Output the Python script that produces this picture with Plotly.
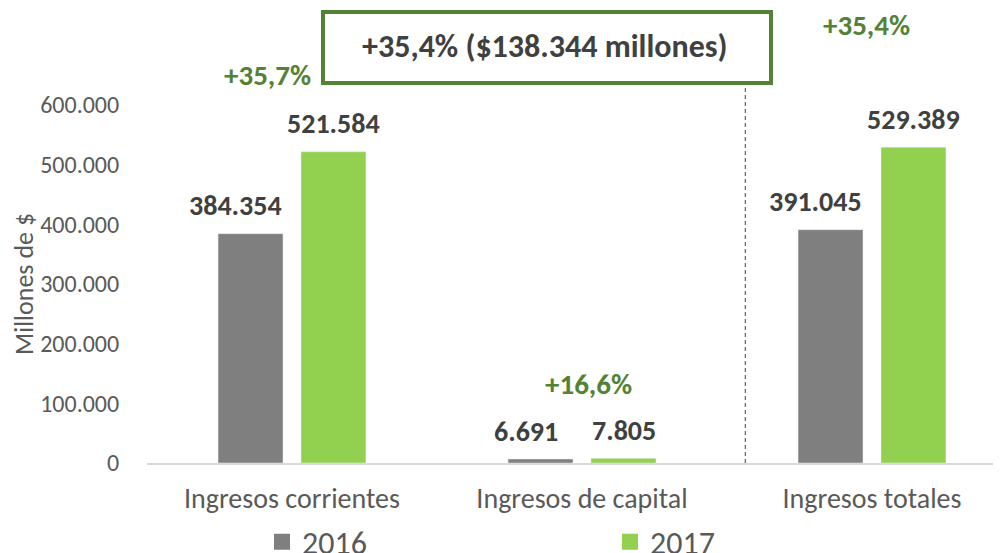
import plotly.graph_objects as go

categories = ["Ingresos corrientes", "Ingresos de capital", "Ingresos totales"]
years = ["2016", "2017"]
values_2016 = [384354, 6691, 391045]
values_2017 = [521584, 7805, 529389]
growth_labels = ["+35,7%", "+16,6%", "+35,4%"]
total_label = "+35,4% ($138.344 millones)"
y_ticks = [0, 100000, 200000, 300000, 400000, 500000, 600000]

GRAY = "#7F7F7F"
GREEN = "#92D050"
DKGREEN = "#548235"
TXT = "#404040"
AX = "#595959"
FONT = "Carlito, Calibri, Lato, sans-serif"

# The page body has an 8px margin, so the figure is drawn at (8, 8).
OFF = 8
W, H = 1001 - OFF, 553 - OFF
# plot area in page pixels
PL, PR, PT, PB = 147, 1000, 105, 463
L, T = PL - OFF, PT - OFF
R, B = W - (PR - OFF), H - (PB - OFF)
PW, PH = PR - PL, PB - PT
YMAX = 600000


def px_x(p):
    return (p - PL) / PW


def px_y(p):
    return (PB - p) / PH


fig = go.Figure()
fig.add_trace(go.Bar(name=years[0], x=categories, y=values_2016, marker_color=GRAY, showlegend=False))
fig.add_trace(go.Bar(name=years[1], x=categories, y=values_2017, marker_color=GREEN, showlegend=False))
# legend entries (square markers)
fig.add_trace(go.Scatter(name=years[0], x=[None], y=[None], mode="markers",
                         marker=dict(symbol="square", size=18, color=GRAY), legend="legend"))
fig.add_trace(go.Scatter(name=years[1], x=[None], y=[None], mode="markers",
                         marker=dict(symbol="square", size=18, color=GREEN), legend="legend2"))


def fmt(v):
    return f"{v:,}".replace(",", ".")


ann = []
for i, c in enumerate(categories):
    for v, dx in ((values_2016[i], -41.5 - 15), (values_2017[i], 41.5)):
        ann.append(dict(x=c, y=v, xref="x", yref="y", text=f"<b>{fmt(v)}</b>",
                        showarrow=False, xshift=dx, yshift=28, yanchor="middle",
                        font=dict(family=FONT, size=28, color=TXT)))

# growth labels (page-pixel positions of their centres)
g_pos = [(267, 75), (588, 384), (866, 25)]
for (gx, gy), lab in zip(g_pos, growth_labels):
    ann.append(dict(x=px_x(gx), y=px_y(gy), xref="paper", yref="paper", text=f"<b>{lab}</b>",
                    showarrow=False, xanchor="center", yanchor="middle",
                    font=dict(family=FONT, size=29, color=DKGREEN)))

# boxed total annotation
ann.append(dict(x=px_x(545), y=px_y(46), xref="paper", yref="paper", text=f"<b>{total_label}</b>",
                showarrow=False, yanchor="middle",
                font=dict(family=FONT, size=32, color=TXT)))

fig.add_shape(type="rect", xref="paper", yref="paper",
              x0=px_x(323), x1=px_x(771), y0=px_y(83), y1=px_y(12),
              line=dict(color=DKGREEN, width=4), fillcolor="white", layer="below")
fig.add_shape(type="line", xref="x", yref="paper", x0=1.563, x1=1.563, y0=0, y1=px_y(85),
              line=dict(color="#404040", width=1, dash="4px,3px"))

fig.update_layout(
    width=W, height=H,
    margin=dict(l=L, r=R, t=T, b=B, autoexpand=False),
    annotations=ann,
    plot_bgcolor="white", paper_bgcolor="white",
    separators=",.",
    barmode="group", bargap=0.428, bargroupgap=0.217,
    font=dict(family=FONT, color=AX),
    xaxis=dict(range=[-0.5, -0.5 + PW / 290], showgrid=False, showline=True, linecolor="#D9D9D9",
               linewidth=1.5, ticks="outside", ticklen=10, tickcolor="rgba(0,0,0,0)",
               tickfont=dict(family=FONT, size=28, color=AX)),
    yaxis=dict(range=[0, YMAX], tickvals=y_ticks, tickformat=",d", showgrid=False, zeroline=False,
               showline=False, ticks="outside", ticklen=22, tickcolor="rgba(0,0,0,0)",
               tickfont=dict(family=FONT, size=24, color=AX),
               title=dict(text="Millones de $", font=dict(family=FONT, size=26, color=AX), standoff=12)),
    legend=dict(orientation="h", x=px_x(262), xanchor="left", y=px_y(542), yanchor="middle",
                font=dict(family=FONT, size=32, color=AX), itemsizing="trace", itemclick=False,
                bgcolor="rgba(0,0,0,0)"),
    legend2=dict(orientation="h", x=px_x(610), xanchor="left", y=px_y(542), yanchor="middle",
                 font=dict(family=FONT, size=32, color=AX), itemsizing="trace", itemclick=False,
                 bgcolor="rgba(0,0,0,0)"),
    showlegend=True,
)

fig.write_html("out.html")
